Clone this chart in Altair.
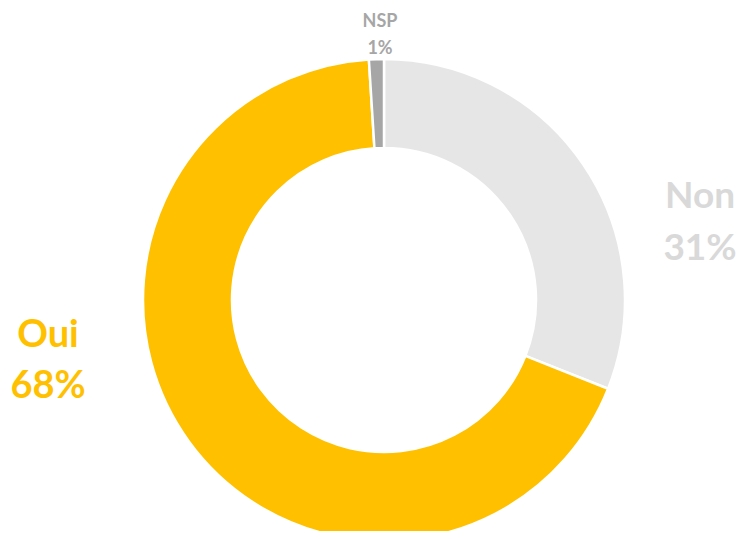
import altair as alt
import pandas as pd

categories = ["Non", "Oui", "NSP"]
values = [31, 68, 1]
labels = ["31%", "68%", "1%"]
colors = ["#E6E6E6", "#FFC000", "#A6A6A6"]
label_colors = ["#D9D9D9", "#FFC000", "#A6A6A6"]

df = pd.DataFrame({"cat": categories, "val": values, "ord": [1, 2, 3]})

W, H = 731, 523
cx, cy = 376, 292

base = alt.Chart(df).encode(
    theta=alt.Theta("val:Q", stack=True),
    order=alt.Order("ord:Q"),
    color=alt.Color("cat:N", scale=alt.Scale(domain=categories, range=colors), legend=None),
)
arcs = base.mark_arc(innerRadius=152, outerRadius=241, x=cx, y=cy,
                     stroke="white", strokeWidth=2.5)

def label(name, pct, col, x, y, size, lh):
    d = pd.DataFrame({"t": [[name, pct]]})
    return alt.Chart(d).mark_text(
        font="Lato", fontWeight="bold", fontSize=size, color=col,
        align="center", baseline="alphabetic", lineHeight=lh, x=x, y=y
    ).encode(text="t")

l_non = label(categories[0], labels[0], label_colors[0], 692, 200, 37, 52)
l_oui = label(categories[1], labels[1], label_colors[1], 40, 339, 38, 51)
l_nsp = label(categories[2], labels[2], label_colors[2], 372, 19, 18, 27)

chart = alt.layer(arcs, l_non, l_oui, l_nsp).properties(
    width=W, height=H, padding=0, autosize=alt.AutoSizeParams(type="none")
).configure_view(stroke=None)

chart.save("out.html", embed_options={"renderer": "svg", "actions": False})
